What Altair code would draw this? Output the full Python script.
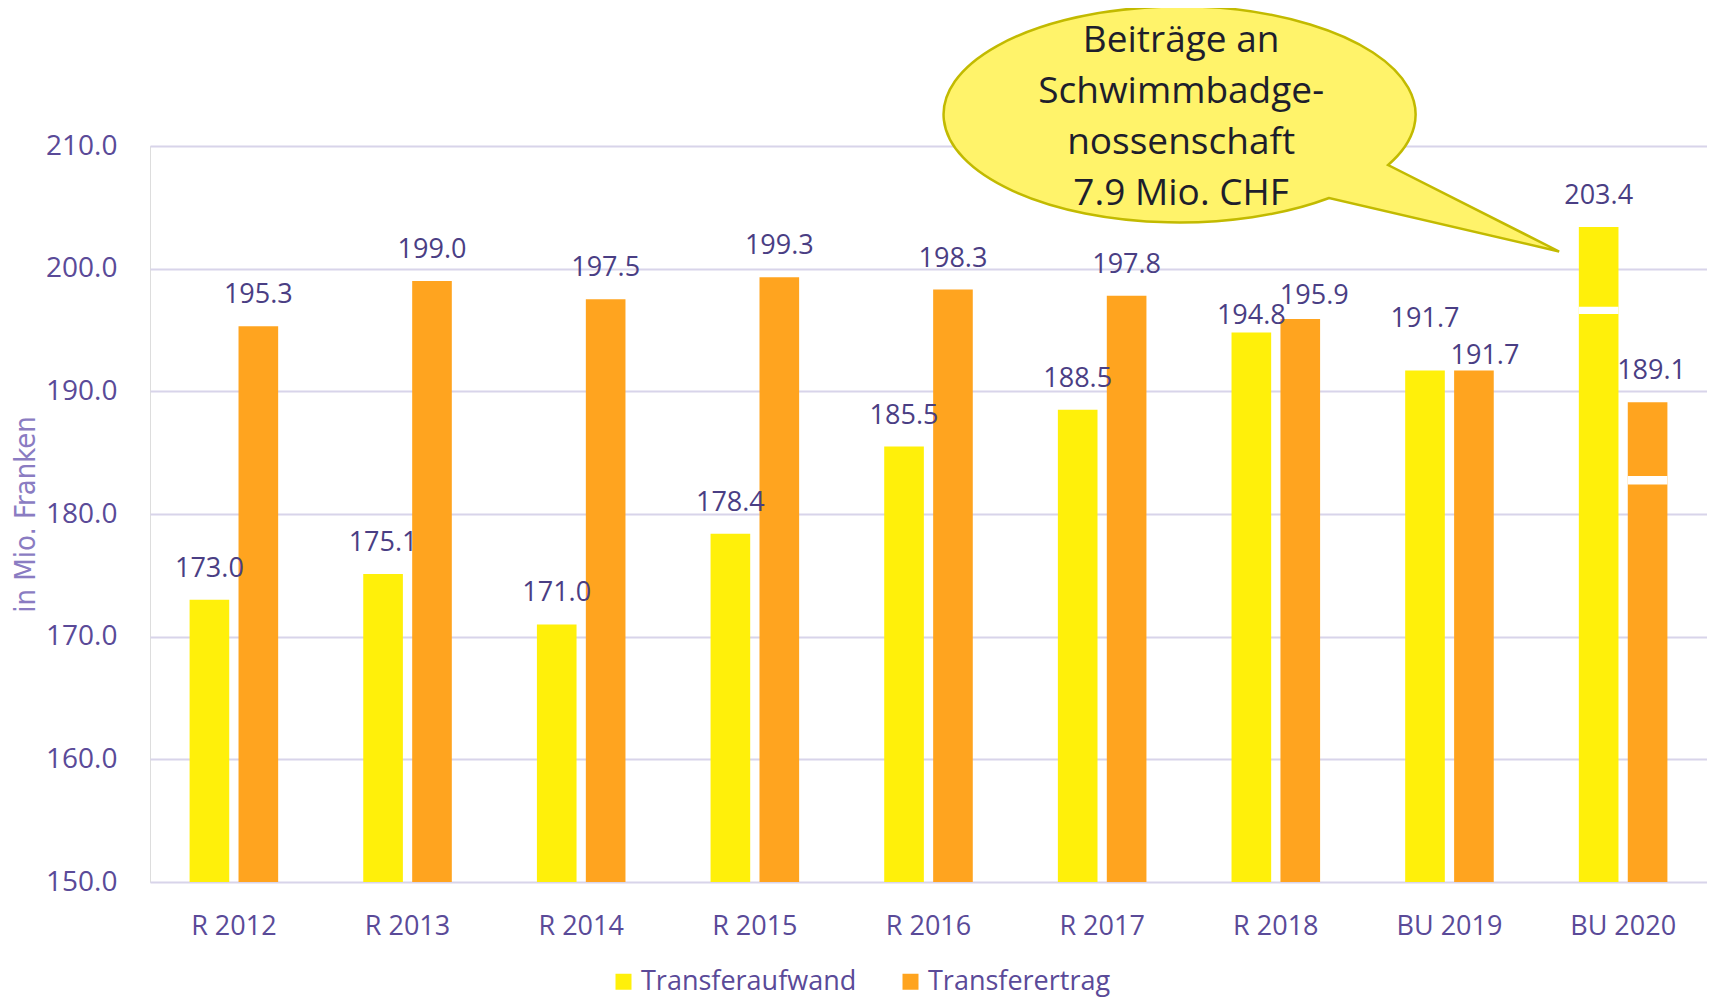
import altair as alt
import pandas as pd

CATEGORIES = ["R 2012", "R 2013", "R 2014", "R 2015", "R 2016", "R 2017", "R 2018", "BU 2019", "BU 2020"]
SERIES = ["Transferaufwand", "Transferertrag"]
AUFWAND = [173.0, 175.1, 171.0, 178.4, 185.5, 188.5, 194.8, 191.7, 203.4]
ERTRAG = [195.3, 199.0, 197.5, 199.3, 198.3, 197.8, 195.9, 191.7, 189.1]

# white separator lines inside the BU 2020 bars
BREAK_CATEGORY = "BU 2020"
BREAK_LOW = [196.3, 182.4]
BREAK_HIGH = [196.9, 183.1]

Y_MIN, Y_MAX = 150, 210
Y_TICKS = [150, 160, 170, 180, 190, 200, 210]

CALLOUT_LINES = ["Beiträge an", "Schwimmbadge-", "nossenschaft", "7.9 Mio. CHF"]
CALLOUT_CATEGORY = "BU 2020"
CALLOUT_TIP_VALUE = 201.4
CALLOUT_FIRST_LINE_VALUE = 218.55

# label placement (pixels): raise above bar top, horizontal shift
RAISE_AUFWAND = [31, 31, 31, 31, 31, 31, 16, 51, 31]
RAISE_ERTRAG = [31, 31, 31, 31, 31, 31, 23, 14, 31]
SHIFT_AUFWAND = [0, 0, 0, 0, 0, 0, 0, 0, 0]
SHIFT_ERTRAG = [0, 0, 0, 0, 0, 0, 14, 11, 4]

W, H = 1557, 736
PX_PER_UNIT = H / (Y_MAX - Y_MIN)

YELLOW = "#FFF00A"
ORANGE = "#FFA41F"
PURPLE = "#5A4A98"
LABEL_PURPLE = "#4A3E84"
FONT = "Open Sans"

rows = []
for i, c in enumerate(CATEGORIES):
    for s, vals, raise_, shift in ((SERIES[0], AUFWAND, RAISE_AUFWAND, SHIFT_AUFWAND),
                                   (SERIES[1], ERTRAG, RAISE_ERTRAG, SHIFT_ERTRAG)):
        rows.append({"category": c, "series": s, "value": vals[i], "label": f"{vals[i]:.1f}",
                     "label_y": vals[i] + raise_[i] / PX_PER_UNIT, "shift": shift[i]})
df = pd.DataFrame(rows)

gaps = pd.DataFrame({
    "category": [BREAK_CATEGORY, BREAK_CATEGORY],
    "series": SERIES,
    "low": BREAK_LOW,
    "high": BREAK_HIGH,
})

x_enc = alt.X(
    "category:N", sort=CATEGORIES,
    scale=alt.Scale(paddingInner=0.49, paddingOuter=0.228),
    axis=alt.Axis(title=None, labelAngle=0, domain=False, ticks=False, grid=False,
                  labelFont=FONT, labelFontSize=27, labelColor=PURPLE, labelPadding=31),
)
xo_enc = alt.XOffset("series:N", sort=SERIES, scale=alt.Scale(paddingInner=0.19, paddingOuter=0))
y_scale = alt.Scale(domain=[Y_MIN, Y_MAX], zero=False, nice=False)

bars = alt.Chart(df).mark_bar().encode(
    x=x_enc,
    xOffset=xo_enc,
    y=alt.Y("value:Q", scale=y_scale,
            axis=alt.Axis(values=Y_TICKS, format=".1f", title="in Mio. Franken",
                          domain=False, ticks=False, grid=True, gridColor="#D8D4EA", gridWidth=2,
                          labelFont=FONT, labelFontSize=28, labelColor=PURPLE, labelPadding=33,
                          titleFont="DejaVu Sans Condensed, Roboto Condensed, Liberation Sans",
                          titleFontSize=29, titleFontWeight="normal",
                          titleColor="#8A7CC2", titlePadding=5)),
    y2=alt.datum(Y_MIN),
    color=alt.Color("series:N", sort=SERIES,
                    scale=alt.Scale(domain=SERIES, range=[YELLOW, ORANGE]),
                    legend=alt.Legend(title=None, orient="none", direction="horizontal",
                                      legendX=460, legendY=822, symbolType="square",
                                      symbolSize=256, symbolStrokeWidth=0, labelFont=FONT,
                                      labelFontSize=27, labelColor=PURPLE, labelOffset=4,
                                      labelLimit=0, columnPadding=40)),
)

gap_bars = alt.Chart(gaps).mark_bar(color="white").encode(
    x=alt.X("category:N", sort=CATEGORIES),
    xOffset=alt.XOffset("series:N", sort=SERIES),
    y=alt.Y("low:Q"),
    y2="high:Q",
)

label_layers = []
for shift in sorted(set(SHIFT_AUFWAND + SHIFT_ERTRAG)):
    label_layers.append(
        alt.Chart(df).transform_filter(alt.datum.shift == shift).mark_text(
            font=FONT, fontSize=27, color=LABEL_PURPLE, baseline="middle", dx=shift,
        ).encode(
            x=alt.X("category:N", sort=CATEGORIES),
            xOffset=alt.XOffset("series:N", sort=SERIES),
            y=alt.Y("label_y:Q"),
            text="label:N",
        )
    )

CALLOUT_PATH = "M -235 -86.5 A 236 108 0 1 0 -294 -53.5 L -64 0 Z"
callout_shape = alt.Chart(pd.DataFrame({"category": [CALLOUT_CATEGORY], "v": [CALLOUT_TIP_VALUE]})).mark_point(
    shape=CALLOUT_PATH, size=4, filled=True, fill="#FFF36A", stroke="#C2BA00",
    strokeWidth=2.5, opacity=1,
).encode(
    x=alt.X("category:N", sort=CATEGORIES),
    y=alt.Y("v:Q"),
)

callout_text = alt.Chart(pd.DataFrame({"category": [CALLOUT_CATEGORY], "v": [CALLOUT_FIRST_LINE_VALUE],
                                       "t": ["\n".join(CALLOUT_LINES)]})).mark_text(
    font=FONT, fontSize=37, color="#1E1E2C", lineBreak="\n", lineHeight=51,
    align="center", baseline="middle", dx=-442,
).encode(
    x=alt.X("category:N", sort=CATEGORIES),
    y=alt.Y("v:Q"),
    text="t:N",
)

chart = alt.layer(bars, gap_bars, *label_layers, callout_shape, callout_text).properties(
    width=W, height=H,
    autosize=alt.AutoSizeParams(type="none"),
    padding={"left": 142, "top": 138, "right": 0, "bottom": 116},
).configure_view(stroke=None).configure(font=FONT)

chart.save("out.html", embed_options={"renderer": "svg", "actions": False})
